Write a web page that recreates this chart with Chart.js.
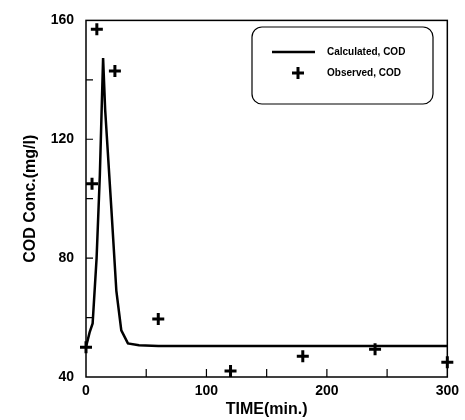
<!DOCTYPE html>
<html>
<head>
<meta charset="utf-8">
<script src="https://cdn.jsdelivr.net/npm/chart.js@4.4.1/dist/chart.umd.min.js"></script>
<style>
  html, body { margin: 0; padding: 0; background: #fff; }
  #wrap { width: 465px; height: 420px; }
</style>
</head>
<body>
<div id="wrap"><canvas id="codChart" width="465" height="420"></canvas></div>
<script>
// Calculated COD curve (time in min, conc in mg/l)
const calcTime = [0, 3, 5.5, 8.8, 11.5, 13, 14.2, 15.9, 21, 25.2, 29.3, 34.8, 44, 60, 100, 200, 300];
const calcCod  = [50.1, 55, 58, 80, 108, 130, 147.3, 130, 97, 69, 55.7, 51.3, 50.7, 50.4, 50.4, 50.4, 50.4];

// Observed COD
const obsTime = [0, 5, 9, 24, 60, 120, 180, 240, 300];
const obsCod  = [50, 105, 157, 143, 59.5, 42, 47, 49.3, 45];

const xTicks = [0, 100, 200, 300];
const yTicks = [40, 80, 120, 160];

const fontFam = '"Liberation Sans", Arial, sans-serif';

// box round the plot, inward ticks, legend inside the plot
const framePlugin = {
    id: 'frame',
    afterDatasetsDraw(chart) {
        const ctx = chart.ctx;
        const a = chart.chartArea;
        const xs = chart.scales.x, ys = chart.scales.y;
        ctx.save();
        ctx.strokeStyle = '#000';
        ctx.lineWidth = 1.5;
        ctx.strokeRect(a.left, a.top, a.right - a.left, a.bottom - a.top);
        ctx.lineWidth = 1.2;
        ctx.beginPath();
        for (let v = 60; v < 160; v += 20) {
            const y = ys.getPixelForValue(v);
            ctx.moveTo(a.left, y); ctx.lineTo(a.left + 7, y);
        }
        for (let v = 50; v < 300; v += 50) {
            const x = xs.getPixelForValue(v);
            ctx.moveTo(x, a.bottom); ctx.lineTo(x, a.bottom - 8);
        }
        ctx.stroke();

        // legend box
        const bx = 252, by = 27, bw = 181, bh = 77, r = 10;
        ctx.lineWidth = 1.2;
        ctx.beginPath();
        ctx.roundRect(bx, by, bw, bh, r);
        ctx.fillStyle = '#fff';
        ctx.fill();
        ctx.stroke();

        ctx.lineWidth = 2.5;
        ctx.beginPath();
        ctx.moveTo(272, 52); ctx.lineTo(315, 52);
        ctx.stroke();
        ctx.lineWidth = 3;
        ctx.beginPath();
        ctx.moveTo(292, 73); ctx.lineTo(304, 73);
        ctx.moveTo(298, 67); ctx.lineTo(298, 79);
        ctx.stroke();

        ctx.fillStyle = '#000';
        ctx.font = 'bold 10px ' + fontFam;
        ctx.textBaseline = 'middle';
        ctx.textAlign = 'left';
        ctx.fillText(chart.data.datasets[0].label, 327, 52);
        ctx.fillText(chart.data.datasets[1].label, 327, 73);
        ctx.restore();
    }
};

const data = {
    datasets: [{
        label: 'Calculated, COD',
        type: 'line',
        data: calcTime.map((t, i) => ({ x: t, y: calcCod[i] })),
        borderColor: '#000',
        borderWidth: 2.5,
        pointRadius: 0,
        tension: 0,
        fill: false
    }, {
        label: 'Observed, COD',
        type: 'scatter',
        data: obsTime.map((t, i) => ({ x: t, y: obsCod[i] })),
        pointStyle: 'cross',
        pointRadius: 6,
        borderWidth: 3,
        borderColor: '#000',
        backgroundColor: '#000'
    }]
};

const config = {
    type: 'scatter',
    data: data,
    options: {
        responsive: false,
        animation: false,
        clip: false,
        layout: { padding: { left: 0, right: 10, top: 16, bottom: 0 } },
        plugins: { legend: { display: false }, tooltip: { enabled: false } },
        scales: {
            x: {
                type: 'linear', min: 0, max: 300,
                afterBuildTicks: s => { s.ticks = xTicks.map(v => ({ value: v })); },
                afterFit: s => { s.height = 43; },
                grid: { display: false, drawTicks: false },
                border: { display: false },
                ticks: { color: '#000', padding: 6, font: { family: fontFam, size: 14, weight: 'bold' } },
                title: { display: true, text: 'TIME(min.)', color: '#000', padding: { top: 0, bottom: 1 },
                         font: { family: fontFam, size: 16, weight: 'bold' } }
            },
            y: {
                min: 40, max: 160,
                afterBuildTicks: s => { s.ticks = yTicks.map(v => ({ value: v })); },
                afterFit: s => { s.width = 86; },
                grid: { display: false, drawTicks: false },
                border: { display: false },
                ticks: { color: '#000', padding: 12, font: { family: fontFam, size: 14, weight: 'bold' } },
                title: { display: true, text: 'COD Conc.(mg/l)', color: '#000', padding: { top: 21, bottom: 0 },
                         font: { family: fontFam, size: 16, weight: 'bold' } }
            }
        }
    },
    plugins: [framePlugin]
};

const ctx = document.getElementById('codChart').getContext('2d');
const codChart = new Chart(ctx, config);
</script>
</body>
</html>
